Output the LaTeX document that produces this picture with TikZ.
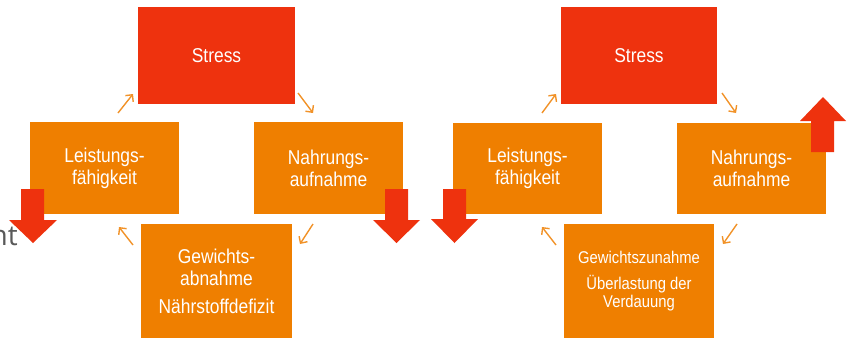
\documentclass[tikz,border=0pt]{standalone}
\usepackage{fontspec}
\setmainfont{Liberation Sans}[FakeStretch=0.87]
\newfontfamily\ntfont{Open Sans}
\usetikzlibrary{arrows.meta}
\definecolor{boxred}{RGB}{238,50,14}
\definecolor{boxorange}{RGB}{239,127,0}
\definecolor{thinarrow}{RGB}{241,146,40}
\definecolor{txtgray}{RGB}{89,89,89}
\begin{document}
\begin{tikzpicture}[x=1pt,y=-1pt,
  box/.style={draw=none, inner sep=0pt, align=center, text=white, font=\fontsize{20}{22}\selectfont},
  redbox/.style={box, fill=boxred},
  orangebox/.style={box, fill=boxorange},
  smalltext/.style={font=\fontsize{17}{18}\selectfont},
  cyc/.style={draw=thinarrow, line width=1.4pt, -{Straight Barb[length=5pt,width=10pt]}},
  bigarrow/.style={fill=boxred, draw=none}]
\useasboundingbox (0,0) rectangle (849,338);

% gray text at the left edge
\node[anchor=base east, text=txtgray, font=\ntfont\fontsize{28}{30}\selectfont, inner sep=0pt] (nt) at (18,245) {nt};

% ---------- left cycle ----------
\node[redbox, minimum width=157pt, minimum height=97pt] (s1) at (216.5,55.5) {Stress};
\node[orangebox, minimum width=149pt, minimum height=92pt] (l1) at (104.5,168) {Leistungs-\\fähigkeit};
\node[orangebox, minimum width=149pt, minimum height=92pt] (n1) at (328.5,168) {Nahrungs-\\aufnahme};
\node[orangebox, minimum width=151pt, minimum height=114pt] (g1) at (216.5,281) {Gewichts-\\abnahme\\[6pt]Nährstoffdefizit};

\coordinate (l1a) at (118,113); \coordinate (l1b) at (133,94);
\coordinate (s1a) at (298,93);  \coordinate (s1b) at (313,113);
\coordinate (n1a) at (313,224); \coordinate (n1b) at (300,244);
\coordinate (g1a) at (133,245); \coordinate (g1b) at (119,227);
\draw[cyc] (l1a) -- (l1b);
\draw[cyc] (s1a) -- (s1b);
\draw[cyc] (n1a) -- (n1b);
\draw[cyc] (g1a) -- (g1b);

% big red arrows (left cycle)
\fill[bigarrow] (21,189) -- (44,189) -- (44,220) -- (57,220) -- (33,243) -- (9,220) -- (21,220) -- cycle;
\fill[bigarrow] (385,189) -- (408,189) -- (408,220) -- (420,220) -- (396.5,243) -- (373,220) -- (385,220) -- cycle;

% ---------- right cycle ----------
\node[redbox, minimum width=156pt, minimum height=97pt] (s2) at (639,55.5) {Stress};
\node[orangebox, minimum width=149pt, minimum height=91pt] (l2) at (527.5,168.5) {Leistungs-\\fähigkeit};
\node[orangebox, minimum width=149pt, minimum height=91pt] (n2) at (751.5,168.5) {Nahrungs-\\aufnahme};
\node[orangebox, smalltext, minimum width=150pt, minimum height=114pt] (g2) at (639,281) {Gewichtszunahme\\[8pt]Überlastung der\\Verdauung};

\coordinate (l2a) at (542,113); \coordinate (l2b) at (556,94);
\coordinate (s2a) at (722,93);  \coordinate (s2b) at (736,113);
\coordinate (n2a) at (737,224); \coordinate (n2b) at (723,244);
\coordinate (g2a) at (556,245); \coordinate (g2b) at (542,227);
\draw[cyc] (l2a) -- (l2b);
\draw[cyc] (s2a) -- (s2b);
\draw[cyc] (n2a) -- (n2b);
\draw[cyc] (g2a) -- (g2b);

% big red arrows (right cycle)
\fill[bigarrow] (443,189) -- (466,189) -- (466,219) -- (478,219) -- (454.5,243) -- (431,219) -- (443,219) -- cycle;
\fill[bigarrow] (811,152) -- (834,152) -- (834,121) -- (846,121) -- (823,97) -- (800,121) -- (811,121) -- cycle;
\end{tikzpicture}
\end{document}
